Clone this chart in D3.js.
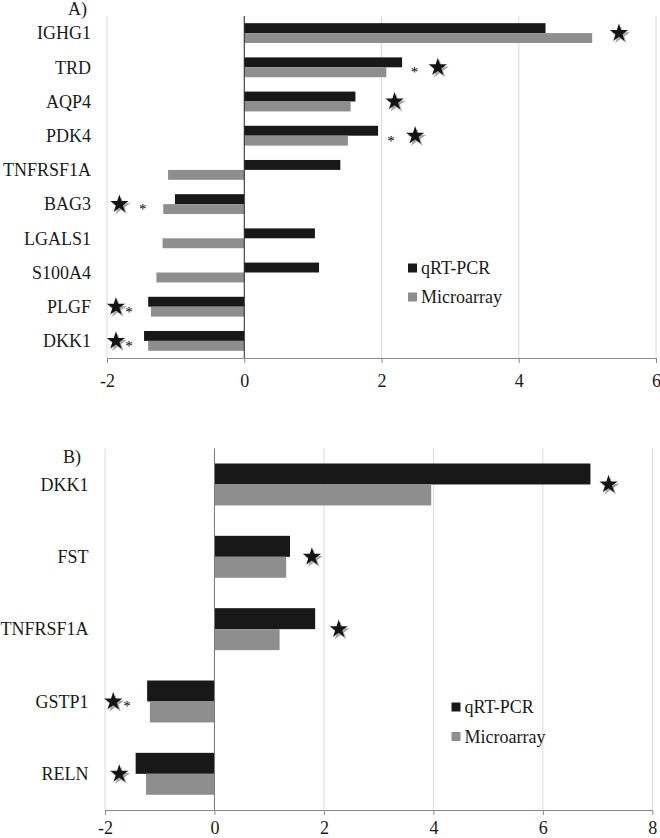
<!DOCTYPE html>
<html>
<head>
<meta charset="utf-8">
<script src="https://cdn.jsdelivr.net/npm/d3@7"></script>
<style>
  body { margin: 0; background: #fff; }
  svg { display: block; font-family: "Liberation Serif", "Times New Roman", serif; }
</style>
</head>
<body>
<svg id="chart" width="660" height="838"></svg>
<script>
// panel A data
const genesA = ["IGHG1", "TRD", "AQP4", "PDK4", "TNFRSF1A", "BAG3", "LGALS1", "S100A4", "PLGF", "DKK1"];
const qpcrA = [4.39, 2.30, 1.62, 1.95, 1.40, -1.01, 1.03, 1.09, -1.40, -1.46];
const microA = [5.07, 2.07, 1.55, 1.51, -1.11, -1.18, -1.19, -1.28, -1.36, -1.40];
const ticksA = [-2, 0, 2, 4, 6];
// significance marks (value-axis position)
const starsA = [
    { gene: "IGHG1", at: 5.46 }, { gene: "TRD", at: 2.82 }, { gene: "AQP4", at: 2.19 },
    { gene: "PDK4", at: 2.49 }, { gene: "BAG3", at: -1.82 }, { gene: "PLGF", at: -1.87 },
    { gene: "DKK1", at: -1.87 }
];
const asterisksA = [
    { gene: "TRD", at: 2.48 }, { gene: "PDK4", at: 2.14 }, { gene: "BAG3", at: -1.48 },
    { gene: "PLGF", at: -1.68 }, { gene: "DKK1", at: -1.68 }
];

// panel B data
const genesB = ["DKK1", "FST", "TNFRSF1A", "GSTP1", "RELN"];
const qpcrB = [6.87, 1.38, 1.84, -1.23, -1.44];
const microB = [3.96, 1.31, 1.19, -1.18, -1.25];
const ticksB = [-2, 0, 2, 4, 6, 8];
const starsB = [
    { gene: "DKK1", at: 7.20 }, { gene: "FST", at: 1.78 }, { gene: "TNFRSF1A", at: 2.27 },
    { gene: "GSTP1", at: -1.85 }, { gene: "RELN", at: -1.74 }
];
const asterisksB = [{ gene: "GSTP1", at: -1.60 }];

const seriesNames = ["qRT-PCR", "Microarray"];
const COLORS = ["#181818", "#8e8e8e"];

const svg = d3.select("#chart");

/**
 * 横棒グラフのパネルを描く
 */
function drawPanel(p) {
    const g = svg.append("g");
    const x = d3.scaleLinear().domain([p.ticks[0], p.ticks[p.ticks.length - 1]]).range([p.left, p.right]);
    const y = d3.scaleBand().domain(p.genes).range([p.top, p.bottom]).paddingInner(0.42).paddingOuter(0.21);
    const sub = d3.scaleBand().domain([0, 1]).range([0, y.bandwidth()]);

    // gridlines
    g.append("g").selectAll("line")
        .data(p.ticks.filter(t => t !== 0))
        .join("line")
        .attr("x1", d => x(d)).attr("x2", d => x(d))
        .attr("y1", p.top).attr("y2", p.bottom)
        .attr("stroke", "#dadada").attr("stroke-width", 1);

    // bars
    [p.qpcr, p.micro].forEach((vals, s) => {
        g.append("g").selectAll("rect")
            .data(vals)
            .join("rect")
            .attr("x", d => x(Math.min(0, d)))
            .attr("width", d => Math.abs(x(d) - x(0)))
            .attr("y", (d, i) => y(p.genes[i]) + sub(s))
            .attr("height", sub.bandwidth())
            .attr("fill", COLORS[s]);
    });

    // zero line
    g.append("line")
        .attr("x1", x(0)).attr("x2", x(0))
        .attr("y1", p.top).attr("y2", p.bottom)
        .attr("stroke", p.zeroColor).attr("stroke-width", 1);

    // x axis
    const axis = g.append("g")
        .attr("transform", `translate(0,${p.bottom})`)
        .call(d3.axisBottom(x).tickValues(p.ticks).tickFormat(d3.format("d")).tickSize(5).tickSizeOuter(0).tickPadding(p.tickPad));
    axis.select(".domain").attr("stroke", "#8a8a8a");
    axis.selectAll(".tick line").attr("stroke", "#8a8a8a");
    axis.selectAll(".tick text")
        .attr("font-family", "Liberation Serif, serif")
        .attr("font-size", 18).attr("fill", "#1a1a1a")
        .text(d => d < 0 ? "-" + Math.abs(d) : d);

    // category labels
    g.append("g").selectAll("text")
        .data(p.genes)
        .join("text")
        .attr("x", p.labelX)
        .attr("y", d => y(d) + y.bandwidth() / 2)
        .attr("dy", "0.35em")
        .attr("text-anchor", "end")
        .attr("font-size", 18).attr("fill", "#1a1a1a")
        .text(d => d);

    // panel letter
    g.append("text")
        .attr("x", p.letterX).attr("y", p.letterY)
        .attr("text-anchor", "end")
        .attr("font-size", 18).attr("fill", "#1a1a1a")
        .text(p.letter);

    // stars with shadow
    const star = d3.symbol().type(d3.symbolStar).size(p.starSize);
    const starG = g.append("g");
    starG.selectAll("path.shadow")
        .data(p.stars)
        .join("path")
        .attr("class", "shadow")
        .attr("d", star)
        .attr("transform", d => `translate(${x(d.at) + 1.8},${y(d.gene) + y.bandwidth() / 2 + 2.2})`)
        .attr("fill", "#a8a8a8");
    starG.selectAll("path.mark")
        .data(p.stars)
        .join("path")
        .attr("class", "mark")
        .attr("d", star)
        .attr("transform", d => `translate(${x(d.at)},${y(d.gene) + y.bandwidth() / 2})`)
        .attr("fill", "#141414");

    // asterisks
    g.append("g").selectAll("text")
        .data(p.asterisks)
        .join("text")
        .attr("x", d => x(d.at))
        .attr("y", d => y(d.gene) + y.bandwidth() / 2 + 10)
        .attr("text-anchor", "middle")
        .attr("font-size", 15).attr("fill", "#000")
        .text("*");

    // legend
    const leg = g.append("g").selectAll("g")
        .data(seriesNames)
        .join("g")
        .attr("transform", (d, i) => `translate(${p.legendX},${p.legendY + i * p.legendGap})`);
    leg.append("rect")
        .attr("x", 0).attr("y", -4.5)
        .attr("width", 9).attr("height", 9)
        .attr("fill", (d, i) => COLORS[i]);
    leg.append("text")
        .attr("x", 13).attr("y", 0).attr("dy", "0.35em")
        .attr("font-size", 18).attr("fill", "#1a1a1a")
        .text(d => d);
}

drawPanel({
    genes: genesA, qpcr: qpcrA, micro: microA, ticks: ticksA,
    stars: starsA, asterisks: asterisksA,
    left: 107, right: 656, top: 16, bottom: 358,
    labelX: 91, letter: "A)", letterX: 87, letterY: 15,
    zeroColor: "#222", tickPad: 11, starSize: 105,
    legendX: 408, legendY: 268, legendGap: 29
});

drawPanel({
    genes: genesB, qpcr: qpcrB, micro: microB, ticks: ticksB,
    stars: starsB, asterisks: asterisksB,
    left: 105, right: 652.3, top: 448.3, bottom: 810,
    labelX: 88.5, letter: "B)", letterX: 81, letterY: 463,
    zeroColor: "#777", tickPad: 6.5, starSize: 105,
    legendX: 451.5, legendY: 707, legendGap: 29.5
});
</script>
</body>
</html>
